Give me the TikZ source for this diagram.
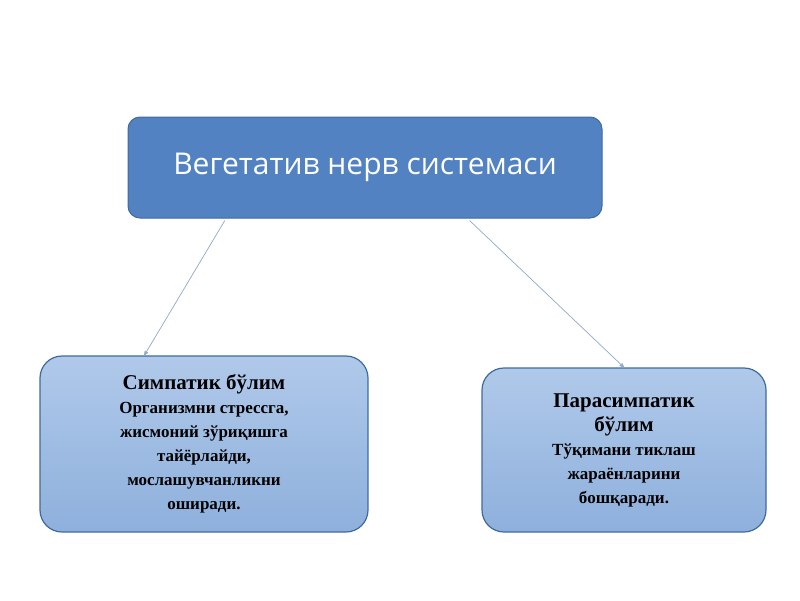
\documentclass[tikz,border=0pt]{standalone}
\usepackage{fontspec}
\setmainfont{Liberation Serif}
\newfontfamily\headfont{Open Sans}
\usetikzlibrary{arrows}
\definecolor{headblue}{HTML}{5282C2}
\definecolor{edgeblue}{HTML}{3F6A9E}
\definecolor{lighttop}{HTML}{B0C9EA}
\definecolor{lightbot}{HTML}{8EB0DC}
\definecolor{arrowgray}{HTML}{8FA8C8}
\tikzset{
 head/.style={draw=edgeblue, fill=headblue, rounded corners=12pt, line width=1pt,
   minimum width=474pt, minimum height=101pt, text=white,
   font=\headfont\fontsize{30}{36}\selectfont},
 part/.style={draw=edgeblue, top color=lighttop, bottom color=lightbot, rounded corners=22pt,
   line width=1.2pt, align=center, font=\bfseries\fontsize{17}{24}\selectfont},
 link/.style={draw=arrowgray, line width=.7pt, -stealth'}
}
\begin{document}
\begin{tikzpicture}[x=1pt,y=-1pt]
 \useasboundingbox (0,0) rectangle (800,600);
 \node[head] (vns) at (365,167.5) {Вегетатив нерв системаси};

 \node[part, minimum width=328pt, minimum height=176pt] (symp) at (204,444)
  {{\fontsize{21}{26}\selectfont Симпатик бўлим}\\Организмни стрессга,\\жисмоний зўриқишга\\тайёрлайди,\\мослашувчанликни\\оширади.};
 \node[part, minimum width=284pt, minimum height=164pt] (para) at (624,450)
  {{\fontsize{21}{30}\selectfont Парасимпатик}\\{\fontsize{21}{26}\selectfont бўлим}\\Тўқимани тиклаш\\жараёнларини\\бошқаради.};

 \draw[link] (vns.200) ++(0,2) -- (symp.124);
 \draw[link] (vns.334.5) ++(0,2) -- (para.north);
\end{tikzpicture}
\end{document}
